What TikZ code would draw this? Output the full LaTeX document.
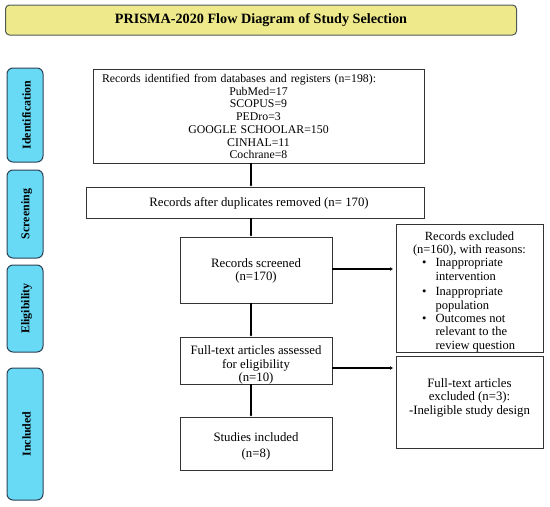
\documentclass[tikz,border=0pt]{standalone}
\usepackage{fontspec}
\setmainfont{Liberation Serif}
\usetikzlibrary{arrows.meta}
\definecolor{titlefill}{RGB}{238,234,140}
\definecolor{titledraw}{RGB}{80,90,85}
\definecolor{tabfill}{RGB}{104,218,246}
\definecolor{tabdraw}{RGB}{45,65,85}
\tikzset{
  titlebox/.style={draw=titledraw, fill=titlefill, rounded corners=4pt, line width=1pt},
  tabbox/.style={draw=tabdraw, fill=tabfill, rounded corners=6pt, line width=1pt},
  tablabel/.style={rotate=90, font=\fontsize{11.9}{13}\selectfont\bfseries},
  flowbox/.style={draw=black!80, line width=0.9pt, fill=white, inner sep=0pt},
  flowtext/.style={font=\fontsize{12.8}{13.5}\selectfont, align=center, inner sep=0pt},
  vflow/.style={line width=2.4pt, -{Latex[length=2pt,width=3pt]}},
  hflow/.style={line width=1.6pt, -{Latex[length=3pt,width=4pt]}},
}
\begin{document}
\begin{tikzpicture}[x=1pt,y=-1pt]
\useasboundingbox (0,0) rectangle (550,507);
% title
\node[titlebox, minimum width=511pt, minimum height=30pt, inner sep=0pt] (title) at (261,20)
  {\fontsize{14.2}{16}\selectfont\bfseries PRISMA-2020 Flow Diagram of Study Selection};
% tabs
\node[tabbox, minimum width=36pt, minimum height=94pt] (tabid) at (25,115) {};
\node[tablabel] (tabidl) at ([xshift=1.5pt]tabid.center) {Identification};
\node[tabbox, minimum width=36pt, minimum height=88pt] (tabsc) at (25,214) {};
\node[tablabel] (tabscl) at ([xshift=1.5pt]tabsc.center) {Screening};
\node[tabbox, minimum width=36pt, minimum height=87pt] (tabel) at (25,308.5) {};
\node[tablabel] (tabell) at ([xshift=1.5pt]tabel.center) {Eligibility};
\node[tabbox, minimum width=36pt, minimum height=132pt] (tabin) at (25,434) {};
\node[tablabel] (tabinl) at ([xshift=1.5pt]tabin.center) {Included};
% boxes
\node[flowbox, minimum width=331pt, minimum height=94pt] (ident) at (258.5,116) {};
\node[flowtext, font=\fontsize{11.8}{12.7}\selectfont, text width=313pt] (identt) at (258.5,116.5)
  {\makebox[313pt][l]{Records identified from databases and registers (n=198):}\\
   PubMed=17\\ SCOPUS=9\\ PEDro=3\\ GOOGLE SCHOOLAR=150\\ CINHAL=11\\ Cochrane=8};
\node[flowbox, minimum width=338pt, minimum height=31pt] (dup) at (255,202.5) {};
\node[flowtext] (dupt) at (259,203.5) {Records after duplicates removed (n=~170)};
\node[flowbox, minimum width=152pt, minimum height=66pt] (scr) at (256,270) {};
\node[flowtext] (scrt) at (256,271) {Records screened\\(n=170)};
\node[flowbox, minimum width=152pt, minimum height=47pt] (full) at (256,360.5) {};
\node[flowtext] (fullt) at (256,365) {Full-text articles assessed\\for eligibility\\(n=10)};
\node[flowbox, minimum width=152pt, minimum height=53pt] (incl) at (256,443.5) {};
\node[flowtext] (inclt) at (256,446) {Studies included\\[2.5pt](n=8)};
\node[flowbox, minimum width=147pt, minimum height=128pt] (exc) at (469.5,288) {};
\node[flowtext, font=\fontsize{12.5}{13.4}\selectfont] (exct) at (469.5,244)
  {Records excluded\\(n=160), with reasons:};
\node[flowtext, font=\fontsize{12.5}{13.4}\selectfont, anchor=north west] (excl) at (422,256.5)
  {\def\arraystretch{1.03}\begin{tabular}{@{}c@{\hspace{9pt}}l@{}}
   \textbullet & Inappropriate\\ & intervention\\[1.5pt]
   \textbullet & Inappropriate\\ & population\\[-1pt]
   \textbullet & Outcomes not\\ & relevant to the\\ & review question
   \end{tabular}};
\node[flowbox, minimum width=147pt, minimum height=92pt] (fexc) at (469.5,402) {};
\node[flowtext] (fexct) at (469.5,397.5) {Full-text articles\\excluded (n=3):\\-Ineligible study design};
% connectors
\draw[vflow] (ident.south -| 251,0) -- (dup.north -| 251,0);
\draw[vflow] (dup.south -| 251,0) -- (scr.north -| 251,0);
\draw[vflow] (scr.south -| 251,0) -- (full.north -| 251,0);
\draw[vflow] (full.south -| 251,0) -- (incl.north -| 251,0);
\coordinate (e1) at (393,269);
\coordinate (e2) at (393,368);
\draw[hflow] (scr.east |- e1) -- (e1);
\draw[hflow] (full.east |- e2) -- (e2);
\end{tikzpicture}
\end{document}
